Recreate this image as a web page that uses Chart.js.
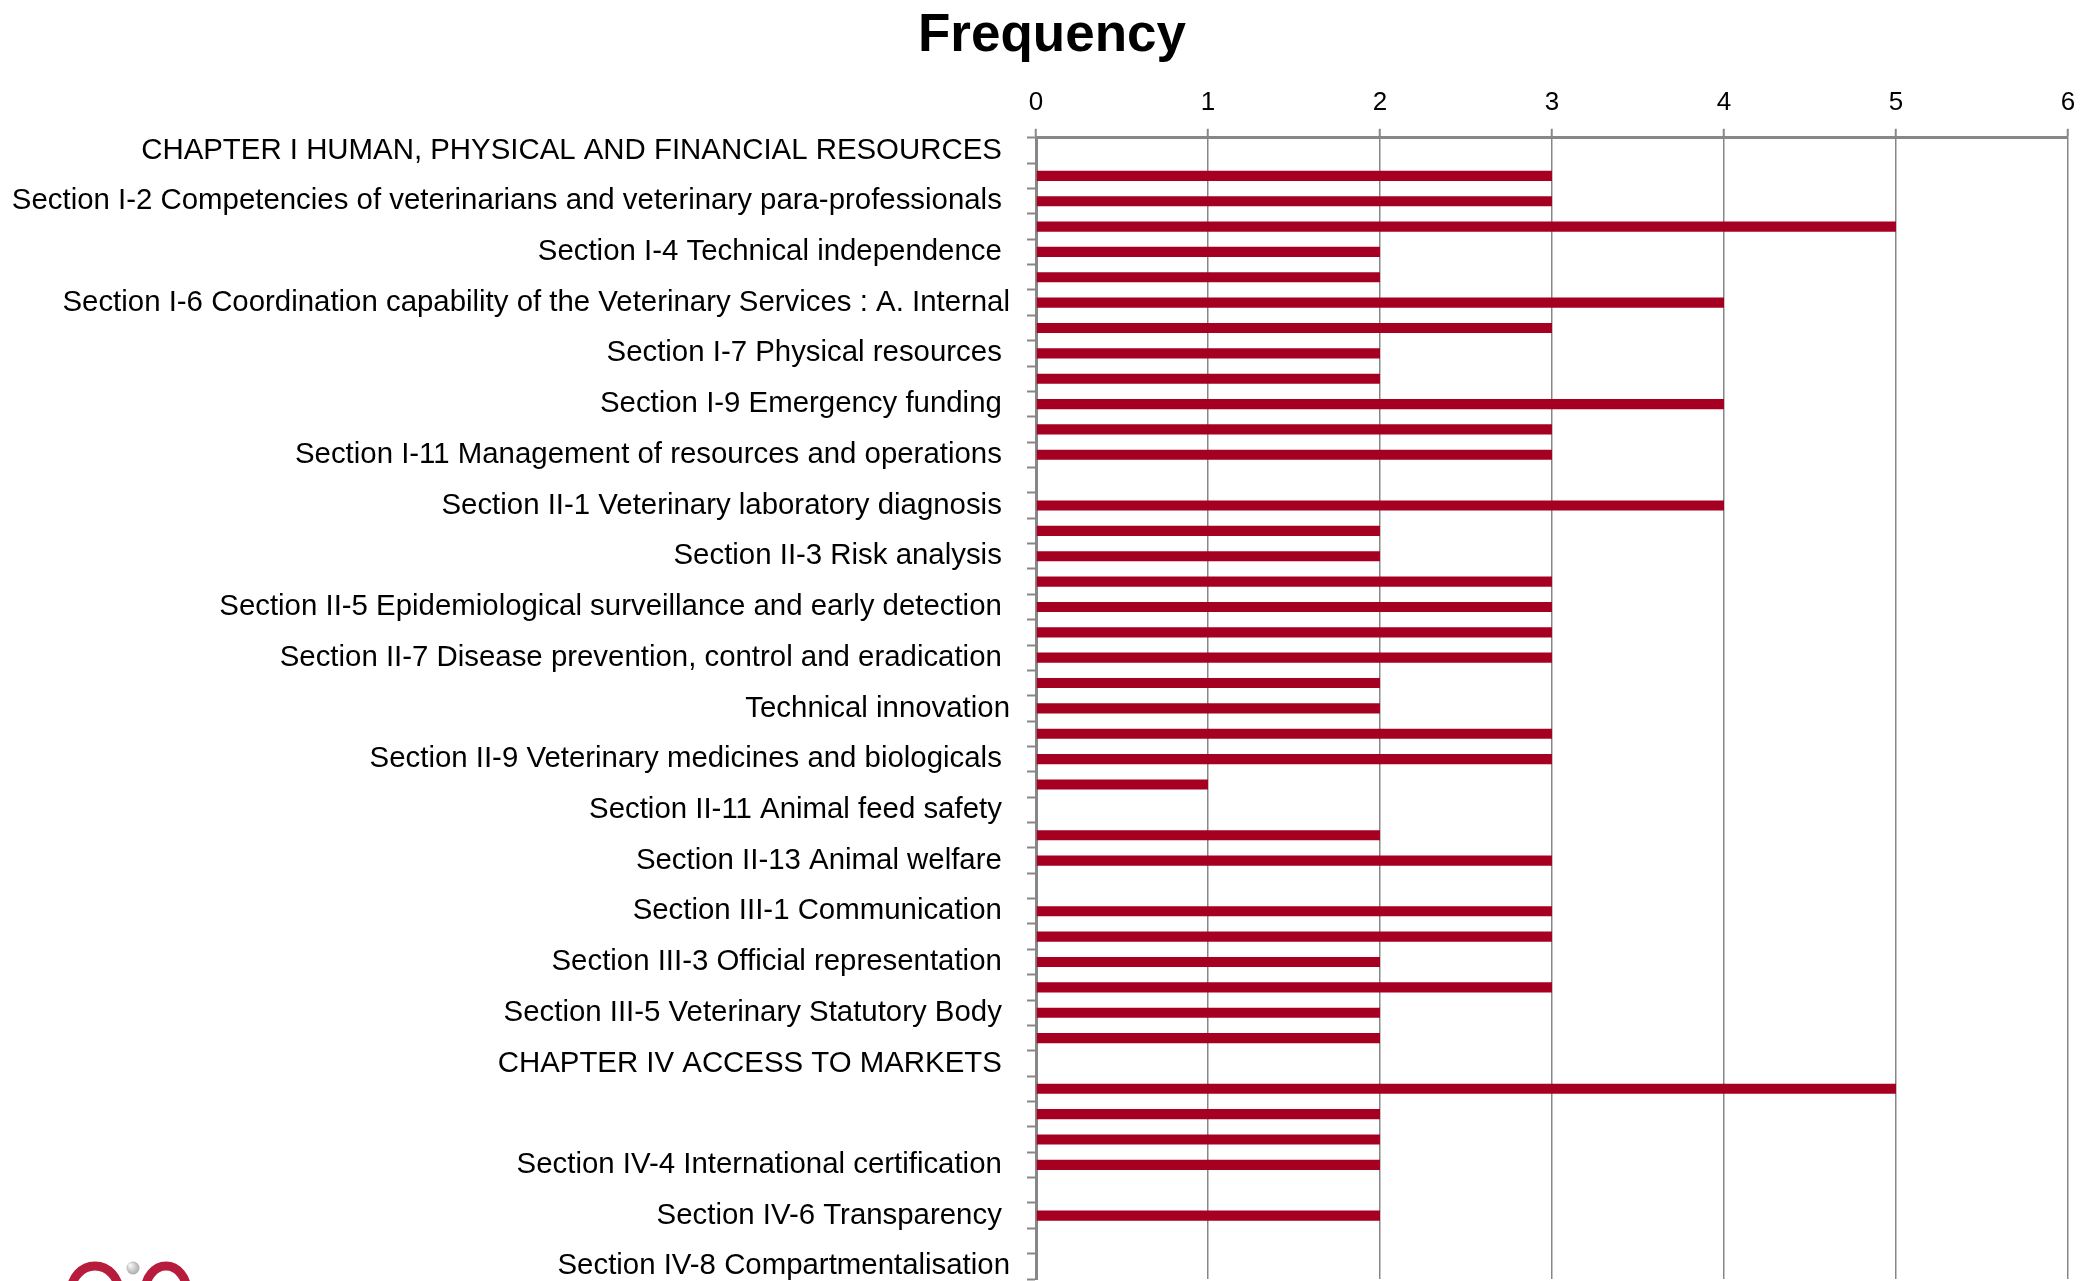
<!DOCTYPE html>
<html>
<head>
<meta charset="utf-8">
<script src="https://cdn.jsdelivr.net/npm/chart.js@4/dist/chart.umd.min.js"></script>
<style>
  html, body { margin: 0; padding: 0; background: #fff; }
  #wrap { width: 2083px; height: 1281px; position: relative; }
</style>
</head>
<body>
<div id="wrap"><canvas id="freqChart"></canvas></div>
<script>
// one row per category, top to bottom; '' = row with no visible label
const rowLabels = [
  'CHAPTER I HUMAN, PHYSICAL AND FINANCIAL RESOURCES ', '',
  'Section I-2 Competencies of veterinarians and veterinary para-professionals ', '',
  'Section I-4 Technical independence ', '',
  'Section I-6 Coordination capability of the Veterinary Services : A. Internal', '',
  'Section I-7 Physical resources ', '',
  'Section I-9 Emergency funding ', '',
  'Section I-11 Management of resources and operations ', '',
  'Section II-1 Veterinary laboratory diagnosis ', '',
  'Section II-3 Risk analysis ', '',
  'Section II-5 Epidemiological surveillance and early detection ', '',
  'Section II-7 Disease prevention, control and eradication ', '',
  'Technical innovation', '',
  'Section II-9 Veterinary medicines and biologicals ', '',
  'Section II-11 Animal feed safety ', '',
  'Section II-13 Animal welfare ', '',
  'Section III-1 Communication ', '',
  'Section III-3 Official representation ', '',
  'Section III-5 Veterinary Statutory Body ', '',
  'CHAPTER IV ACCESS TO MARKETS ', '',
  '', '',
  'Section IV-4 International certification ', '',
  'Section IV-6 Transparency ', '',
  'Section IV-8 Compartmentalisation'
];

const frequency = [
  0, 3, 3, 5, 2, 2, 4, 3, 2, 2,
  4, 3, 3, 0, 4, 2, 2, 3, 3, 3,
  3, 2, 2, 3, 3, 1, 0, 2, 3, 0,
  3, 3, 2, 3, 2, 2, 0, 5, 2, 2,
  2, 0, 2, 0, 0
];

const xTicks = [0, 1, 2, 3, 4, 5, 6];

const GREY = '#878787';
const FONT = "'Liberation Sans', Arial, sans-serif";

// partial logo peeking in at the bottom-left corner
const logoPlugin = {
  id: 'logo',
  afterLayout(chart) {
    // let the long category labels run past the left padding instead of being clipped
    chart.scales.y.left = 0;
  },
  afterDraw(chart) {
    const c = chart.ctx;
    c.save();
    c.strokeStyle = '#b71c3c';
    c.lineWidth = 9;
    c.beginPath();
    c.ellipse(95, 1292, 24, 26, 0, 0, Math.PI * 2);
    c.stroke();
    c.beginPath();
    c.ellipse(166, 1292, 21, 26, 0, 0, Math.PI * 2);
    c.stroke();
    const g = c.createRadialGradient(130, 1265, 1, 133, 1268, 7);
    g.addColorStop(0, '#f4f4f4');
    g.addColorStop(1, '#a8a8a8');
    c.fillStyle = g;
    c.beginPath();
    c.arc(133, 1268, 6.5, 0, Math.PI * 2);
    c.fill();
    c.restore();
  }
};

new Chart(document.getElementById('freqChart'), {
  type: 'bar',
  data: {
    labels: rowLabels,
    datasets: [{
      label: 'Frequency',
      data: frequency,
      backgroundColor: '#a50021',
      borderWidth: 0,
      barPercentage: 0.4,
      categoryPercentage: 1.0
    }]
  },
  options: {
    indexAxis: 'y',
    responsive: true,
    maintainAspectRatio: false,
    animation: false,
    devicePixelRatio: 1,
    layout: { padding: { left: 21, right: 0, top: 0, bottom: 2 } },
    plugins: {
      legend: { display: false },
      tooltip: { enabled: false },
      title: {
        display: true,
        text: 'Frequency',
        color: '#000',
        font: { family: FONT, size: 53, weight: 'bold' },
        padding: { top: 5, bottom: 9 }
      }
    },
    scales: {
      x: {
        type: 'linear',
        position: 'top',
        min: 0,
        max: 6,
        afterBuildTicks: s => { s.ticks = xTicks.map(v => ({ value: v })); },
        afterFit: s => { s.paddingLeft = 0; s.paddingRight = 15; },
        ticks: { color: '#000', font: { family: FONT, size: 26 }, padding: 10 },
        grid: { color: GREY, lineWidth: 1.5, tickLength: 9, tickColor: GREY, tickWidth: 2 },
        border: { color: GREY, width: 3 }
      },
      y: {
        afterFit: s => { s.width = 1015; s.paddingTop = 0; s.paddingBottom = 0; },
        ticks: { autoSkip: false, color: '#000', font: { family: FONT, size: 29.4 }, padding: 17 },
        grid: { offset: true, drawOnChartArea: false, tickLength: 9, tickColor: GREY, tickWidth: 2 },
        border: { color: GREY, width: 3 }
      }
    }
  },
  plugins: [logoPlugin]
});
</script>
</body>
</html>
